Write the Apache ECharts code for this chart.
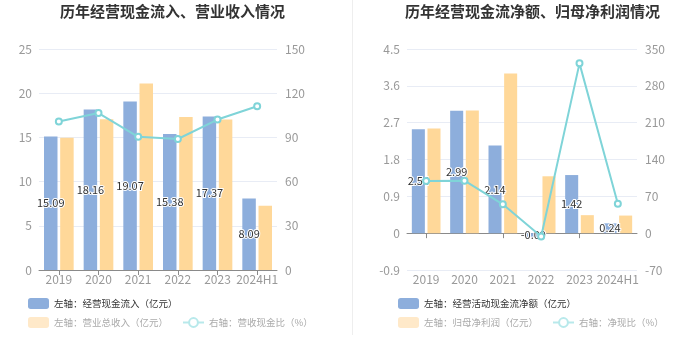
<!DOCTYPE html>
<html>
<head>
<meta charset="utf-8">
<script src="https://cdn.jsdelivr.net/npm/echarts@6/dist/echarts.min.js"></script>
<style>html,body{margin:0;padding:0;background:#fff;}#c{width:700px;height:360px;}</style>
</head>
<body>
<div id="c"></div>
<script>
const years = ['2019', '2020', '2021', '2022', '2023', '2024H1'];
// left chart
const cashInflow = [15.09, 18.16, 19.07, 15.38, 17.37, 8.09];
const revenue = [14.97, 17.05, 21.1, 17.3, 17.02, 7.28];
const cashRatio = [100.8, 106.5, 90.4, 88.9, 102.1, 111.1];
// right chart
const netCashFlow = [2.54, 2.99, 2.14, -0.09, 1.42, 0.24];
const netProfit = [2.56, 3.0, 3.9, 1.39, 0.44, 0.43];
const netRatio = [99.2, 99.7, 54.9, -6.5, 322.7, 55.8];

const names = {
  a1: '左轴：经营现金流入（亿元）', a2: '左轴：营业总收入（亿元）', a3: '右轴：营收现金比（%）',
  b1: '左轴：经营活动现金流净额（亿元）', b2: '左轴：归母净利润（亿元）', b3: '右轴：净现比（%）'
};

const BLUE = '#8daedc', YELLOW = '#ffd899', CYAN = '#7fd4d8';
const FONT = '"Noto Sans CJK SC", sans-serif';
const axisLabel = { color: '#999', fontSize: 12, fontFamily: FONT };
const splitLine = { show: true, lineStyle: { color: '#e8ecf5', width: 1 } };
const axisLineX = { show: true, lineStyle: { color: '#8a8a8a' } };

const chart = echarts.init(document.getElementById('c'), null, { renderer: 'canvas' });

const barLabel = {
  show: true, position: 'inside', color: '#333', fontSize: 11, fontFamily: FONT,
  textBorderColor: '#fff', textBorderWidth: 2, overflow: 'none', width: 60
};

function legendPair(left, n1, n2, n3) {
  const ts = { fontSize: 9.5, fontFamily: FONT };
  return [
    { left: left, top: 298, padding: 0, itemWidth: 21, itemHeight: 11, itemGap: 14, icon: 'roundRect', selectedMode: false,
      textStyle: Object.assign({ color: '#333' }, ts),
      data: [{ name: n1, itemStyle: { color: BLUE } }] },
    { left: left, top: 317, padding: 0, itemWidth: 21, itemHeight: 11, itemGap: 14, selectedMode: false,
      textStyle: Object.assign({ color: '#aaa' }, ts),
      data: [
        { name: n2, icon: 'roundRect', itemStyle: { color: '#ffe9c9' } },
        { name: n3, itemStyle: { color: '#b8e9eb', borderColor: '#b8e9eb', borderWidth: 1.5 }, lineStyle: { color: '#b8e9eb', width: 2 } }
      ] }
  ];
}

const option = {
  animation: false,
  textStyle: { fontFamily: FONT },
  title: [
    { text: '历年经营现金流入、营业收入情况', left: 60, top: 4, padding: 0, textStyle: { fontSize: 15, fontWeight: 'bold', color: '#333', fontFamily: FONT } },
    { text: '历年经营现金流净额、归母净利润情况', left: 405, top: 4, padding: 0, textStyle: { fontSize: 15, fontWeight: 'bold', color: '#333', fontFamily: FONT } }
  ],
  graphic: [
    { type: 'line', shape: { x1: 352.5, y1: 0, x2: 352.5, y2: 335 }, style: { stroke: '#eeeeee', lineWidth: 1 } }
  ],
  legend: legendPair(28, names.a1, names.a2, names.a3).concat(legendPair(398, names.b1, names.b2, names.b3)),
  grid: [
    { left: 39, top: 49, width: 238, height: 221 },
    { left: 407, top: 49, width: 230, height: 221 }
  ],
  xAxis: [
    { type: 'category', gridIndex: 0, data: years, axisLine: axisLineX,
      axisTick: { show: true, alignWithLabel: true, length: 5, lineStyle: { color: '#8a8a8a' } },
      axisLabel: Object.assign({ margin: 3, interval: 0 }, axisLabel) },
    { type: 'category', gridIndex: 1, data: years, position: 'bottom',
      axisLine: { show: false, onZero: false }, axisTick: { show: false },
      axisLabel: Object.assign({ margin: 3, interval: 0 }, axisLabel) },
    { type: 'category', gridIndex: 1, data: years, position: 'bottom',
      axisLine: { show: true, onZero: true, lineStyle: { color: '#8a8a8a' } },
      axisTick: { show: true, alignWithLabel: true, length: 5, lineStyle: { color: '#8a8a8a' } },
      axisLabel: { show: false } }
  ],
  yAxis: [
    { type: 'value', gridIndex: 0, min: 0, max: 25, interval: 5, axisLabel: Object.assign({ margin: 7 }, axisLabel),
      splitLine: splitLine, axisLine: { show: false }, axisTick: { show: false } },
    { type: 'value', gridIndex: 0, min: 0, max: 150, interval: 30, position: 'right', axisLabel: Object.assign({ margin: 8 }, axisLabel),
      splitLine: { show: false }, axisLine: { show: false }, axisTick: { show: false } },
    { type: 'value', gridIndex: 1, min: -0.9, max: 4.5, interval: 0.9, axisLabel: Object.assign({ margin: 7 }, axisLabel),
      splitLine: splitLine, axisLine: { show: false }, axisTick: { show: false } },
    { type: 'value', gridIndex: 1, min: -70, max: 350, interval: 70, position: 'right', axisLabel: Object.assign({ margin: 8 }, axisLabel),
      splitLine: { show: false }, axisLine: { show: false }, axisTick: { show: false } }
  ],
  series: [
    { name: names.a1, type: 'bar', xAxisIndex: 0, yAxisIndex: 0, data: cashInflow, barWidth: '34%', barGap: '20%',
      itemStyle: { color: BLUE }, label: barLabel },
    { name: names.a2, type: 'bar', xAxisIndex: 0, yAxisIndex: 0, data: revenue, barWidth: '34%', barGap: '20%',
      itemStyle: { color: YELLOW } },
    { name: names.a3, type: 'line', xAxisIndex: 0, yAxisIndex: 1, data: cashRatio, symbol: 'emptyCircle', symbolSize: 6,
      itemStyle: { color: CYAN, borderWidth: 1.5 }, lineStyle: { color: CYAN, width: 2 } },
    { name: names.b1, type: 'bar', xAxisIndex: 1, yAxisIndex: 2, data: netCashFlow, barWidth: '34%', barGap: '20%',
      itemStyle: { color: BLUE }, label: barLabel },
    { name: names.b2, type: 'bar', xAxisIndex: 1, yAxisIndex: 2, data: netProfit, barWidth: '34%', barGap: '20%',
      itemStyle: { color: YELLOW } },
    { name: names.b3, type: 'line', xAxisIndex: 1, yAxisIndex: 3, data: netRatio, symbol: 'emptyCircle', symbolSize: 6,
      itemStyle: { color: CYAN, borderWidth: 1.5 }, lineStyle: { color: CYAN, width: 2 } }
  ]
};
chart.setOption(option);
</script>
</body>
</html>
